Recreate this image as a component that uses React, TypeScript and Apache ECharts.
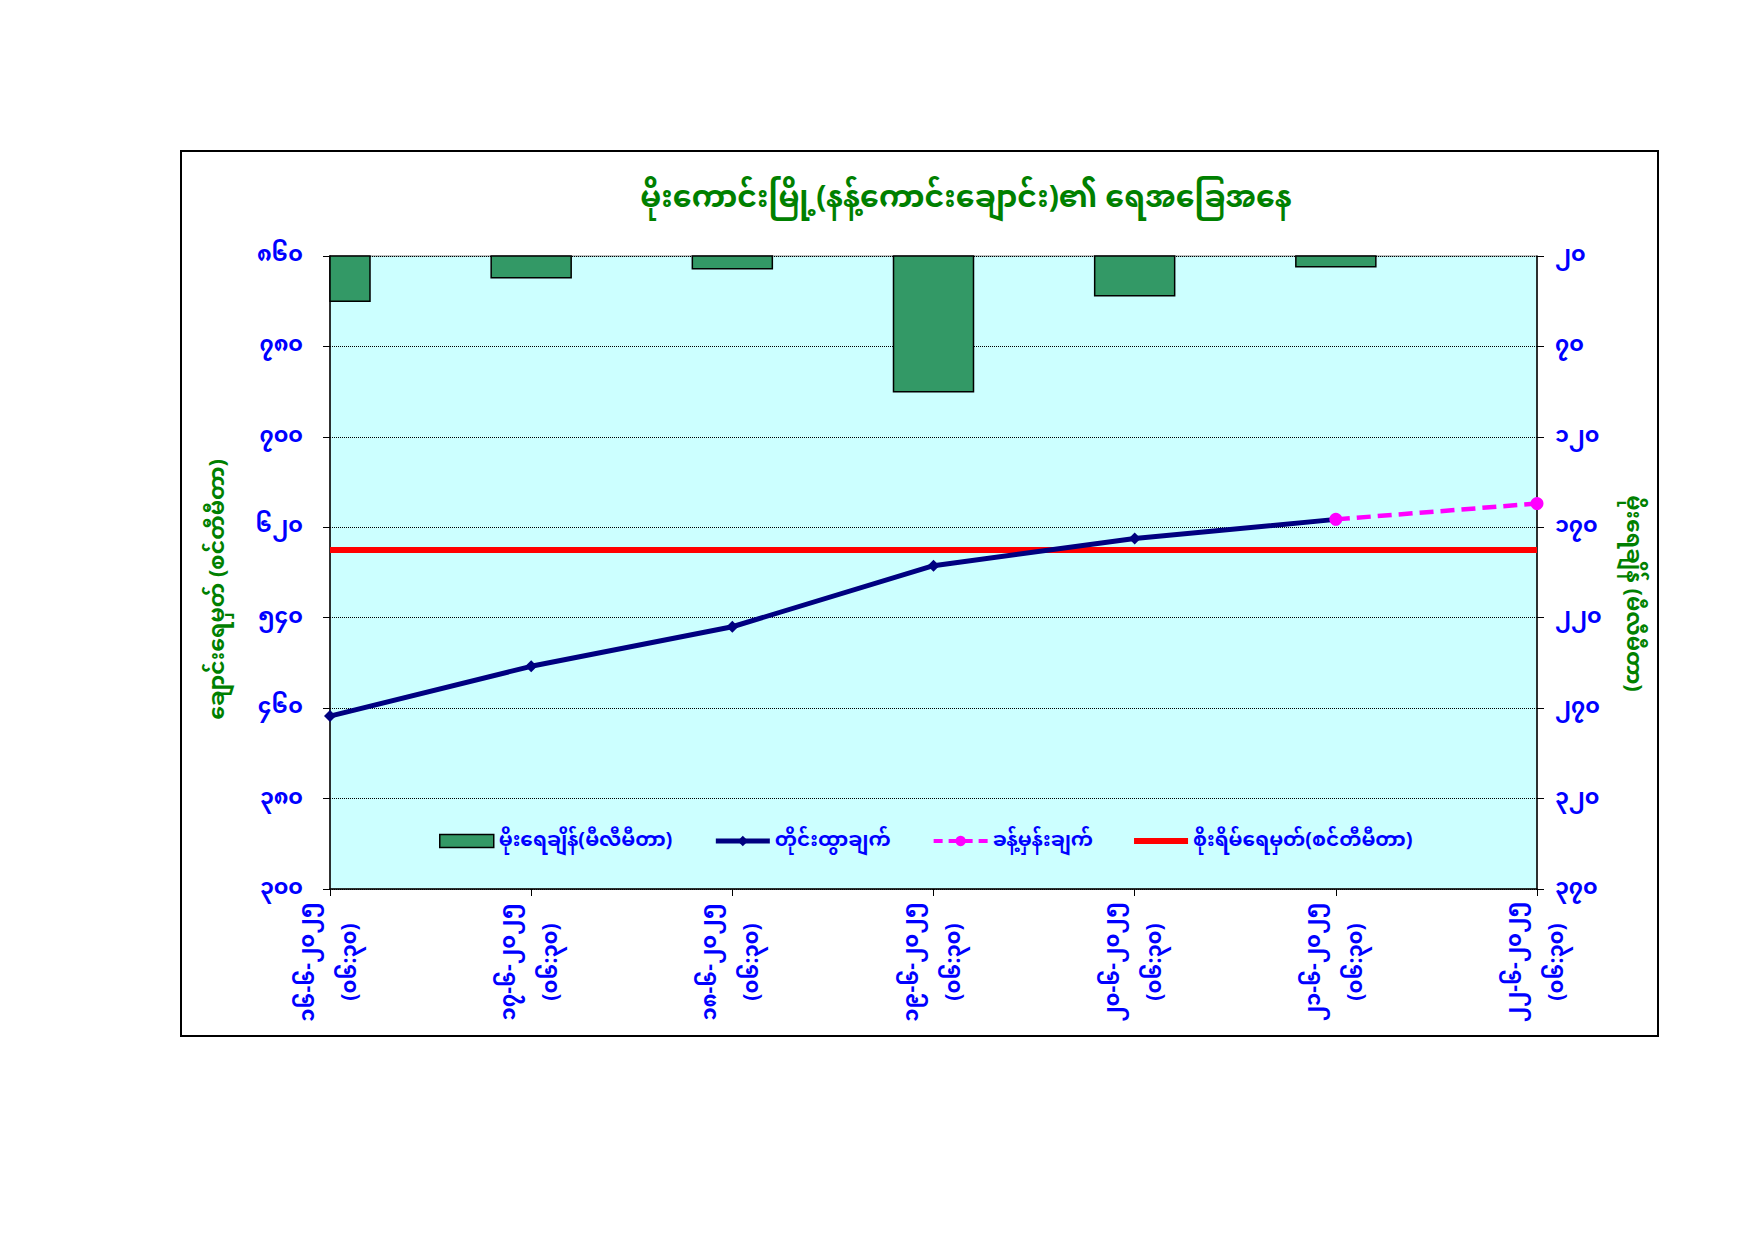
import React, { useEffect, useRef } from "react";
import * as echarts from "echarts";

const dates = ["၁၆-၆-၂၀၂၅", "၁၇-၆-၂၀၂၅", "၁၈-၆-၂၀၂၅", "၁၉-၆-၂၀၂၅", "၂၀-၆-၂၀၂၅", "၂၁-၆-၂၀၂၅", "၂၂-၆-၂၀၂၅"];
const times = ["(၀၆:၃၀)", "(၀၆:၃၀)", "(၀၆:၃၀)", "(၀၆:၃၀)", "(၀၆:၃၀)", "(၀၆:၃၀)", "(၀၆:၃၀)"];
const rainfall = [45, 32, 27, 95, 42, 26, null];
const observed = [453, 497, 532, 586, 610, 627, null];
const forecast = [null, null, null, null, null, 627, 641];
const dangerLevel = [600, 600, 600, 600, 600, 600, 600];

const titleText = "မိုးကောင်းမြို့(နန့်ကောင်းချောင်း)၏ ရေအခြေအနေ";
const leftAxisName = "ချောင်းရေမှတ် (စင်တီမီတာ)";
const rightAxisName = "မိုးရေချိန် (မီလီမီတာ)";
const seriesNames = ["မိုးရေချိန်(မီလီမီတာ)", "တိုင်းထွာချက်", "ခန့်မှန်းချက်", "စိုးရိမ်ရေမှတ်(စင်တီမီတာ)"];

const LEFT_MIN = 300;
const LEFT_MAX = 860;
const LEFT_STEP = 80;
const RIGHT_MIN = 20;
const RIGHT_MAX = 370;
const RIGHT_STEP = 50;

const MM_DIGITS = "၀၁၂၃၄၅၆၇၈၉";
const toMM = (v: number) => String(v).replace(/[0-9]/g, (d) => MM_DIGITS[Number(d)]);

const FONT = "'Noto Sans Myanmar', Padauk, 'Myanmar Text', 'Noto Sans', sans-serif";
const BAR_WIDTH = 80;

export default function App() {
  const ref = useRef<HTMLDivElement>(null);
  useEffect(() => {
    if (!ref.current) return;
    const chart = echarts.init(ref.current, null, { renderer: "svg" });
    const categories = dates.map((d, i) => `${d}\n${times[i]}`);
    const barData = rainfall
      .map((v, i) => (v == null ? null : [i, v]))
      .filter((d) => d !== null);
    chart.setOption({
      animation: false,
      backgroundColor: "#ffffff",
      textStyle: { fontFamily: FONT },
      title: {
        text: titleText,
        left: 961,
        top: 180,
        textAlign: "center",
        textStyle: { color: "#008000", fontSize: 30, fontWeight: "bold", fontFamily: FONT },
      },
      graphic: [
        {
          type: "rect",
          shape: { x: 181, y: 151, width: 1477, height: 885 },
          style: { fill: "none", stroke: "#000000", lineWidth: 2 },
          silent: true,
          z: 100,
        },
      ],
      grid: {
        left: 330,
        top: 256,
        right: 217,
        bottom: 352,
        show: true,
        backgroundColor: "#CCFFFF",
        borderColor: "#808080",
        borderWidth: 1,
      },
      legend: {
        left: 434,
        top: 826,
        itemGap: 41,
        itemWidth: 54,
        itemHeight: 13,
        textStyle: { color: "#0000FF", fontSize: 20, fontWeight: "bold", fontFamily: FONT },
        data: [
          {
            name: seriesNames[0],
            icon: "rect",
            itemStyle: { color: "#339966", borderColor: "#000000", borderWidth: 1.5 },
          },
          { name: seriesNames[1], lineStyle: { width: 5, color: "#000080" } },
          { name: seriesNames[2], lineStyle: { width: 4, color: "#FF00FF", type: [9, 6] } },
          { name: seriesNames[3], icon: "path://M0,0H54V6H0Z", itemStyle: { color: "#FF0000" } },
        ],
      },
      xAxis: {
        type: "category",
        boundaryGap: false,
        data: categories,
        axisLine: { lineStyle: { color: "#000000", width: 1.5 } },
        axisTick: { show: true, length: 7, lineStyle: { color: "#000000" }, alignWithLabel: true },
        axisLabel: {
          interval: 0,
          rotate: 90,
          align: "center",
          margin: 73,
          color: "#0000FF",
          fontSize: 21,
          fontWeight: "bold",
          lineHeight: 42,
          fontFamily: FONT,
        },
        splitLine: { show: false },
      },
      yAxis: [
        {
          type: "value",
          min: LEFT_MIN,
          max: LEFT_MAX,
          interval: LEFT_STEP,
          name: leftAxisName,
          nameLocation: "middle",
          nameGap: 100,
          nameTextStyle: {
            color: "#008000",
            fontSize: 22,
            fontWeight: "bold",
            fontFamily: FONT,
            padding: [0, 34, 0, 0],
          },
          axisLine: { show: true, lineStyle: { color: "#000000", width: 1.5 } },
          axisTick: { show: true, length: 7, lineStyle: { color: "#000000" } },
          axisLabel: {
            color: "#0000FF",
            fontSize: 22,
            fontWeight: "bold",
            margin: 27,
            fontFamily: FONT,
            formatter: (v: number) => toMM(v),
          },
          splitLine: { show: true, lineStyle: { color: "#000000", type: [1, 1], width: 1 } },
        },
        {
          type: "value",
          inverse: true,
          min: RIGHT_MIN,
          max: RIGHT_MAX,
          interval: RIGHT_STEP,
          position: "right",
          name: rightAxisName,
          nameLocation: "middle",
          nameRotate: -90,
          nameGap: 84,
          nameTextStyle: {
            color: "#008000",
            fontSize: 22,
            fontWeight: "bold",
            fontFamily: FONT,
            padding: [0, 0, 0, 42],
          },
          axisLine: { show: true, lineStyle: { color: "#000000", width: 1.5 } },
          axisTick: { show: true, length: 7, lineStyle: { color: "#000000" } },
          axisLabel: {
            color: "#0000FF",
            fontSize: 22,
            fontWeight: "bold",
            margin: 18,
            fontFamily: FONT,
            formatter: (v: number) => toMM(v),
          },
          splitLine: { show: false },
        },
      ],
      series: [
        {
          name: seriesNames[0],
          type: "custom",
          yAxisIndex: 1,
          data: barData,
          encode: { x: 0, y: 1 },
          itemStyle: { color: "#339966", borderColor: "#000000", borderWidth: 1.5 },
          z: 2,
          renderItem: (params: any, api: any) => {
            const idx = api.value(0);
            const val = api.value(1);
            const base = api.coord([idx, RIGHT_MIN]);
            const end = api.coord([idx, val]);
            const cs = params.coordSys;
            const shape = echarts.graphic.clipRectByRect(
              { x: end[0] - BAR_WIDTH / 2, y: base[1], width: BAR_WIDTH, height: end[1] - base[1] },
              { x: cs.x, y: cs.y, width: cs.width, height: cs.height }
            );
            if (!shape) return null;
            return {
              type: "rect",
              shape,
              style: { fill: "#339966", stroke: "#000000", lineWidth: 1.5 },
            };
          },
        },
        {
          name: seriesNames[1],
          type: "line",
          yAxisIndex: 0,
          data: observed,
          symbol: "diamond",
          symbolSize: 12,
          showAllSymbol: true,
          itemStyle: { color: "#000080" },
          lineStyle: { color: "#000080", width: 5 },
          z: 4,
        },
        {
          name: seriesNames[2],
          type: "line",
          yAxisIndex: 0,
          data: forecast,
          symbol: "circle",
          symbolSize: 13,
          itemStyle: { color: "#FF00FF" },
          lineStyle: { color: "#FF00FF", width: 4.5, type: [14, 7] },
          z: 5,
        },
        {
          name: seriesNames[3],
          type: "line",
          yAxisIndex: 0,
          data: dangerLevel,
          symbol: "none",
          itemStyle: { color: "#FF0000" },
          lineStyle: { color: "#FF0000", width: 6 },
          z: 3,
        },
      ],
    });
    return () => chart.dispose();
  }, []);
  return (
    <div
      ref={ref}
      style={{ position: "absolute", left: 0, top: 0, width: 1754, height: 1241 }}
    />
  );
}
